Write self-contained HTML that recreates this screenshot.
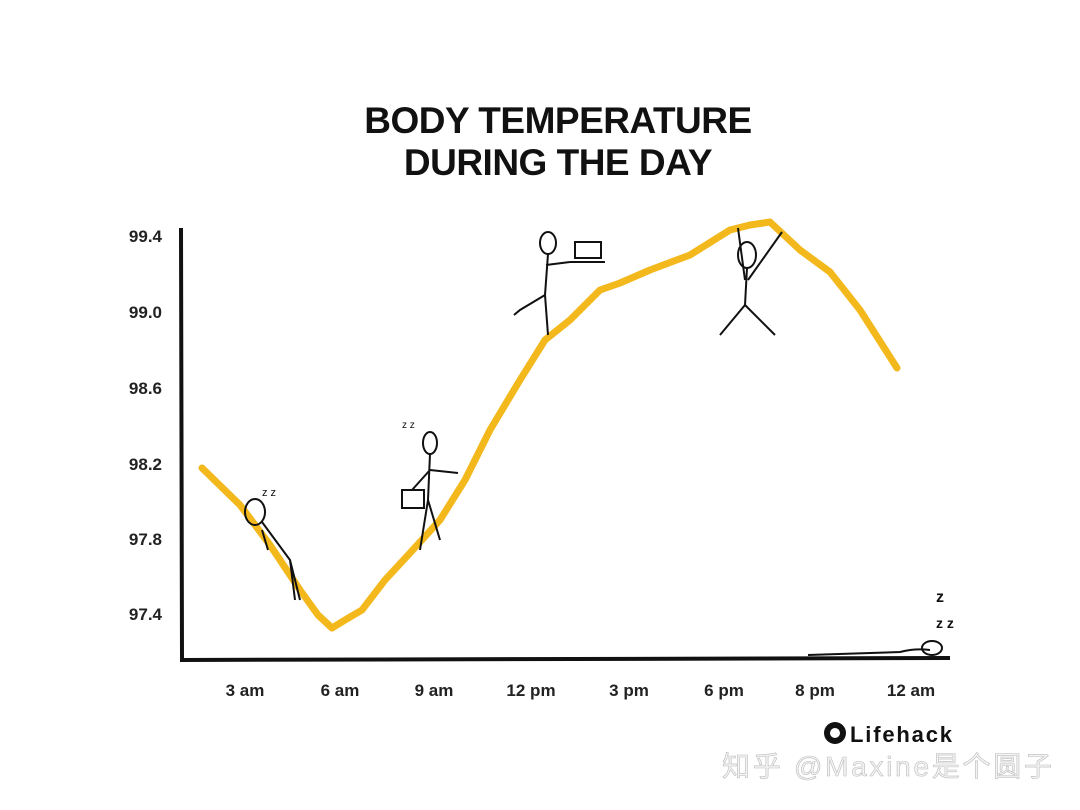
<!DOCTYPE html>
<html><head><meta charset="utf-8"><style>
html,body{margin:0;padding:0;background:#fff;}
body{width:1080px;height:810px;position:relative;overflow:hidden;font-family:"Liberation Sans",sans-serif;}
.t{position:absolute;left:0;width:1116px;text-align:center;font-weight:bold;font-size:37px;color:#111;letter-spacing:-0.5px;}
.yl{position:absolute;right:918px;font-size:17px;font-weight:bold;color:#222;}
.xl{position:absolute;top:681px;font-size:17px;font-weight:bold;color:#222;transform:translateX(-50%);white-space:nowrap;}
</style></head><body>
<div class="t" style="top:100px">BODY TEMPERATURE</div>
<div class="t" style="top:142px">DURING THE DAY</div>
<div class="yl" style="top:227px">99.4</div>
<div class="yl" style="top:303px">99.0</div>
<div class="yl" style="top:379px">98.6</div>
<div class="yl" style="top:455px">98.2</div>
<div class="yl" style="top:530px">97.8</div>
<div class="yl" style="top:605px">97.4</div>
<div class="xl" style="left:245px">3 am</div>
<div class="xl" style="left:340px">6 am</div>
<div class="xl" style="left:434px">9 am</div>
<div class="xl" style="left:531px">12 pm</div>
<div class="xl" style="left:629px">3 pm</div>
<div class="xl" style="left:724px">6 pm</div>
<div class="xl" style="left:815px">8 pm</div>
<div class="xl" style="left:911px">12 am</div>
<svg width="1080" height="810" style="position:absolute;left:0;top:0">
<path d="M181 228 L182 660 L950 658" fill="none" stroke="#111" stroke-width="4"/>
<path d="M202 468 L240 505 L270 545 L300 590 L318 615 L332 628 L345 620 L362 610 L385 580 L410 553 L440 520 L465 480 L490 430 L520 380 L545 340 L570 320 L600 290 L620 283 L650 270 L690 255 L730 230 L750 225 L770 222 L800 250 L830 272 L860 310 L897 368" fill="none" stroke="#f2b81c" stroke-width="7" stroke-linejoin="round" stroke-linecap="round"/>
<g fill="none" stroke="#111" stroke-width="2">
<ellipse cx="255" cy="512" rx="10" ry="13"/><path d="M262 522 L290 560 L295 600 M290 560 L300 600 M262 530 L268 550"/>
<ellipse cx="430" cy="443" rx="7" ry="11"/><path d="M430 454 L428 500 L420 550 M428 500 L440 540 M430 470 L412 490 M430 470 L458 473"/><rect x="402" y="490" width="22" height="18"/>
<ellipse cx="548" cy="243" rx="8" ry="11"/><path d="M548 254 L545 295 L520 310 L514 315 M545 295 L548 335 M546 265 L570 262"/><rect x="575" y="242" width="26" height="16"/><path d="M570 262 L605 262"/>
<ellipse cx="747" cy="255" rx="9" ry="13"/><path d="M747 268 L745 305 L720 335 M745 305 L775 335 M745 280 L738 228 M748 280 L782 232"/>
<path d="M808 655 L900 652 Q915 648 930 650"/><ellipse cx="932" cy="648" rx="10" ry="7"/>
<text x="262" y="496" font-size="11" fill="#111" stroke="none">z z</text>
<text x="402" y="428" font-size="10" fill="#111" stroke="none">z z</text>
<text x="936" y="602" font-size="16" fill="#111" stroke="none" font-weight="bold">z</text>
<text x="936" y="628" font-size="14" fill="#111" stroke="none" font-weight="bold">z z</text>
</g>
<circle cx="835" cy="733" r="11" fill="#111"/><circle cx="835" cy="733" r="5" fill="#fff"/>
<text x="850" y="742" font-size="22" font-weight="bold" fill="#111" font-family="Liberation Sans" textLength="102">Lifehack</text>
<text x="722" y="776" font-size="28" fill="#f4f4f4" stroke="#bbb" stroke-width="0.6" font-family="Liberation Sans, Noto Sans CJK SC, sans-serif" textLength="330">知乎 @Maxine是个圆子</text>
</svg>
</body></html>
